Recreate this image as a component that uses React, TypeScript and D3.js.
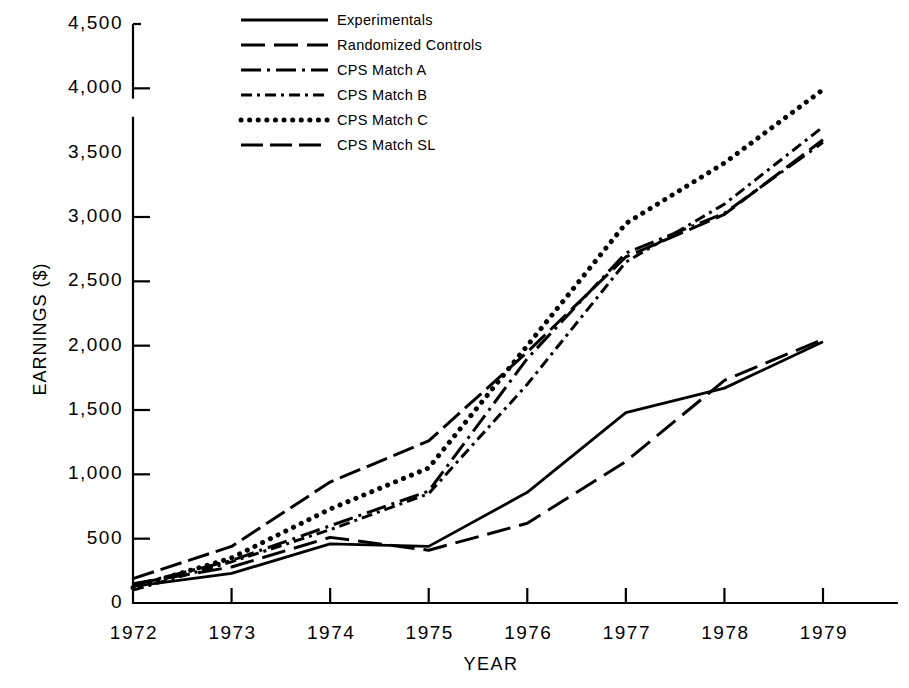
import React from 'react';
import * as d3 from 'd3';

const years = [1972, 1973, 1974, 1975, 1976, 1977, 1978, 1979];

const experimentals = [130, 230, 460, 440, 860, 1480, 1670, 2030];
const randomizedControls = [150, 280, 510, 410, 620, 1100, 1730, 2050];
const cpsMatchA = [140, 330, 600, 870, 1900, 2720, 3030, 3580];
const cpsMatchB = [100, 320, 570, 850, 1700, 2650, 3100, 3700];
const cpsMatchC = [120, 350, 730, 1050, 2000, 2950, 3420, 3990];
const cpsMatchSL = [190, 440, 940, 1260, 1950, 2690, 3020, 3600];

const yTicks = [0, 500, 1000, 1500, 2000, 2500, 3000, 3500, 4000, 4500];

const series = [
  { name: 'Experimentals', values: experimentals, dash: 'none', width: 2.8, cap: 'butt' },
  { name: 'Randomized Controls', values: randomizedControls, dash: '24 9', width: 3, cap: 'butt' },
  { name: 'CPS Match A', values: cpsMatchA, dash: '20 6 3 6', width: 3, cap: 'butt' },
  { name: 'CPS Match B', values: cpsMatchB, dash: '11 5 3 5', width: 3, cap: 'butt' },
  { name: 'CPS Match C', values: cpsMatchC, dash: '0.1 8.5', width: 5, cap: 'round' },
  { name: 'CPS Match SL', values: cpsMatchSL, dash: '22 7', width: 3, cap: 'butt' },
];

const W = 909;
const H = 688;
const FONT = '"Liberation Sans", Arial, sans-serif';

export default function App() {
  const x = d3.scaleLinear().domain([1972, 1979]).range([133, 823]);
  const y = d3.scaleLinear().domain([0, 4500]).range([603, 24]);
  const xEnd = x(1979.76);

  const line = d3
    .line<number>()
    .x((_, i) => x(years[i]))
    .y(d => y(d));

  return (
    <svg
      width={W}
      height={H}
      style={{ position: 'absolute', left: 0, top: 0, background: '#fff' }}
      fontFamily={FONT}
    >
      {/* y axis, broken between 3,500 and 4,000 */}
      <g stroke="#000" strokeWidth={2.2} fill="none">
        <line x1={x(1972)} x2={x(1972)} y1={y(4500)} y2={y(3920)} />
        <line x1={x(1972)} x2={x(1972)} y1={y(3780)} y2={y(0) + 1} />
        <line x1={x(1972) - 1} x2={xEnd} y1={y(0)} y2={y(0)} />
        {yTicks.filter(t => t > 0 && t !== 3500).map(t => (
          <line key={t} x1={x(1972)} x2={x(1972) + (t === 4500 ? 8 : 17)} y1={y(t)} y2={y(t)} />
        ))}
        {years.slice(1).map(yr => (
          <line key={yr} x1={x(yr)} x2={x(yr)} y1={y(0)} y2={y(0) - 15} />
        ))}
      </g>

      <g fontSize={19} fill="#000" letterSpacing={1.5}>
        {yTicks.map(t => (
          <text key={t} x={x(1972) - 10} y={y(t) - 2} dy="0.36em" textAnchor="end">
            {d3.format(',')(t)}
          </text>
        ))}
        {years.map(yr => (
          <text key={yr} x={x(yr) + 1} y={639} textAnchor="middle">
            {yr}
          </text>
        ))}
      </g>

      <text x={491} y={670} fontSize={18} textAnchor="middle" letterSpacing={1.5}>
        YEAR
      </text>
      <text
        transform="translate(46,329) rotate(-90)"
        fontSize={18}
        textAnchor="middle"
        letterSpacing={1}
      >
        EARNINGS ($)
      </text>

      {series.map(s => (
        <path
          key={s.name}
          d={line(s.values) || ''}
          fill="none"
          stroke="#000"
          strokeWidth={s.width}
          strokeDasharray={s.dash}
          strokeLinecap={s.cap as any}
          strokeLinejoin="round"
        />
      ))}

      <g>
        {series.map((s, i) => {
          const ly = 20 + i * 25;
          return (
            <g key={s.name}>
              <line
                x1={241}
                x2={328}
                y1={ly}
                y2={ly}
                stroke="#000"
                strokeWidth={s.width}
                strokeDasharray={s.dash}
                strokeLinecap={s.cap as any}
              />
              <text x={337} y={ly} dy="0.35em" fontSize={14.5} letterSpacing={0.3}>
                {s.name}
              </text>
            </g>
          );
        })}
      </g>
    </svg>
  );
}
